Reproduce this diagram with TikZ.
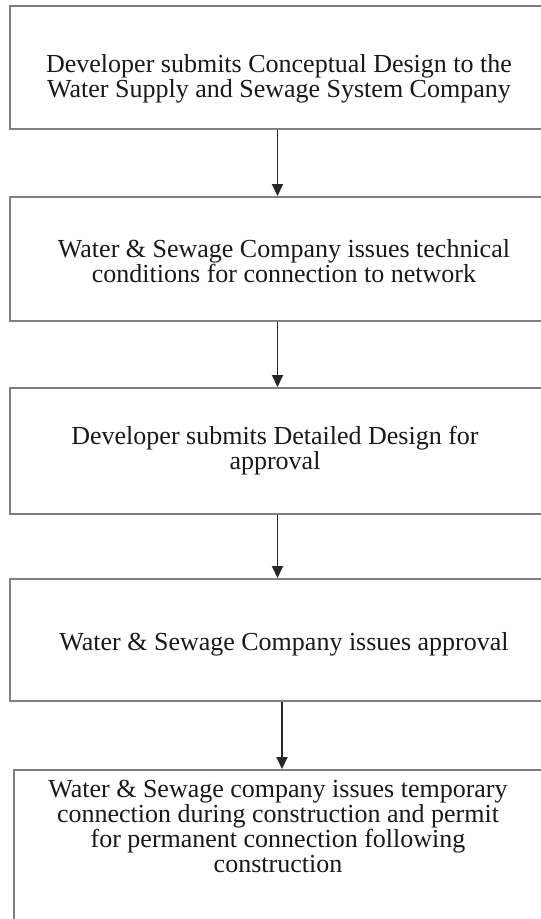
\documentclass[tikz,border=0pt]{standalone}
\usepackage{fontspec}
\setmainfont{Liberation Serif}
\usetikzlibrary{arrows.meta}
\definecolor{boxgray}{HTML}{808080}
\begin{document}
\begin{tikzpicture}[x=1pt,y=-1pt,
  box/.style={draw=boxgray, line width=2pt, fill=white, inner sep=0pt, anchor=north west, minimum width=543pt},
  txt/.style={align=center, font=\fontsize{26}{25}\selectfont, inner sep=0pt, text=black!90},
  arr/.style={-{Triangle[width=11pt,length=12pt]}, line width=1.8pt, draw=black!85}]
\useasboundingbox (0,0) rectangle (541,919);
\clip (0,0) rectangle (541,919);
\fill[white] (0,0) rectangle (541,919);
\node[box, minimum height=123pt] (b1) at (9,5) {};
\node[box, minimum height=124pt] (b2) at (9,196) {};
\node[box, minimum height=126pt] (b3) at (9,387) {};
\node[box, minimum height=122pt] (b4) at (9,578) {};
\node[box, minimum height=165pt] (b5) at (13,769) {};
\node[txt] (t1) at (279,79) {Developer submits Conceptual Design to the\\Water Supply and Sewage System Company};
\node[txt] (t2) at (284,261) {Water \& Sewage Company issues technical\\conditions for connection to network};
\node[txt] (t3) at (275,451) {Developer submits Detailed Design for\\approval};
\node[txt] (t4) at (284,644) {Water \& Sewage Company issues approval};
\node[txt] (t5) at (278,826) {Water \& Sewage company issues temporary\\connection during construction and permit\\for permanent connection following\\construction};
\coordinate (ax1) at (277.5,0);
\coordinate (ax4) at (282,0);
\draw[arr] (b1.south -| ax1) -- (b2.north -| ax1);
\draw[arr] (b2.south -| ax1) -- (b3.north -| ax1);
\draw[arr] (b3.south -| ax1) -- (b4.north -| ax1);
\draw[arr] (b4.south -| ax4) -- (b5.north -| ax4);
\end{tikzpicture}
\end{document}
